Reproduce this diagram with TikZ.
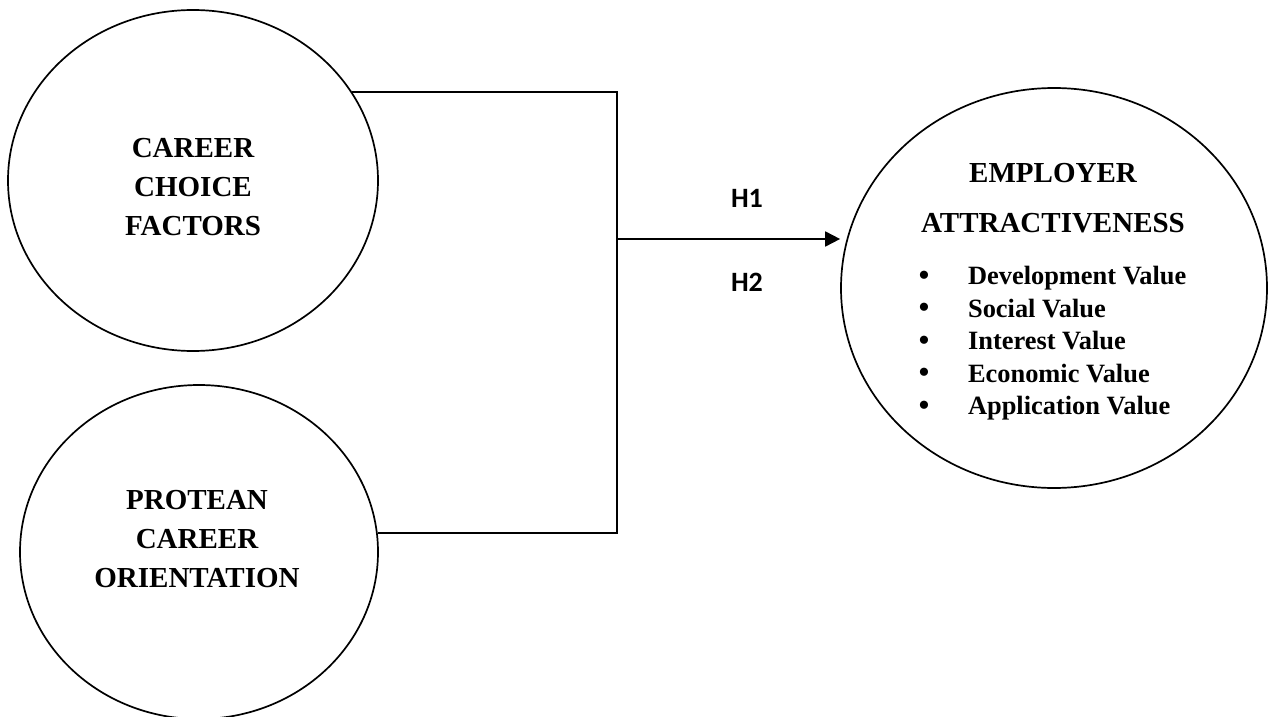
\documentclass[tikz,border=0pt]{standalone}
\usepackage{fontspec}
\setmainfont{Liberation Serif}
\newfontfamily\hypfont{Carlito}
\usetikzlibrary{shapes.geometric,arrows.meta}

\begin{document}
\begin{tikzpicture}[x=0.5pt,y=-0.5pt,>={Triangle[length=7.5pt,width=7.5pt]},
  construct/.style={draw,ellipse,line width=0.85pt,inner sep=0pt},
  lbl/.style={font=\fontsize{14.5}{19.5}\selectfont\bfseries,align=center},
  item/.style={font=\fontsize{13.2}{16}\selectfont\bfseries,anchor=base west},
  hyp/.style={font=\hypfont\fontsize{14}{16}\selectfont\bfseries}]
\useasboundingbox (0,0) rectangle (1269,717);
% constructs
\node[construct,minimum width=185pt,minimum height=170.5pt] (cc) at (193,180.5) {};
\node[construct,minimum width=179pt,minimum height=167pt] (pco) at (199,552) {};
\node[construct,minimum width=213pt,minimum height=200pt] (ea) at (1054,288) {};
\node[lbl] (cctxt) at ([yshift=-3.2pt]cc.center) {CAREER\\CHOICE\\FACTORS};
\node[lbl] (pcotxt) at ([xshift=-1pt,yshift=6.5pt]pco.center) {PROTEAN\\CAREER\\ORIENTATION};
\node[lbl,font=\fontsize{14.5}{25}\selectfont\bfseries] (eatxt) at (1053,198) {EMPLOYER\\ATTRACTIVENESS};
\foreach \val [count=\i from 0] in {Development Value,Social Value,Interest Value,Economic Value,Application Value}{
  \node[item] (v\i) at (961,284.5+32.5*\i) {\val};
  \node[item,anchor=base,font=\fontsize{17}{17}\selectfont] (b\i) at (924,286+32.5*\i) {\textbullet};
}
% connectors
\coordinate (j) at (617,239);
\draw[line width=0.9pt] (cc.29.4) -- (cc.29.4 -| j) -- (pco.6.1 -| j) -- (pco.6.1);
\draw[line width=0.9pt,->] (j) -- (j -| ea.west);
\node[hyp] (h1) at (747,198) {H1};
\node[hyp] (h2) at (747,282) {H2};
\end{tikzpicture}
\end{document}
